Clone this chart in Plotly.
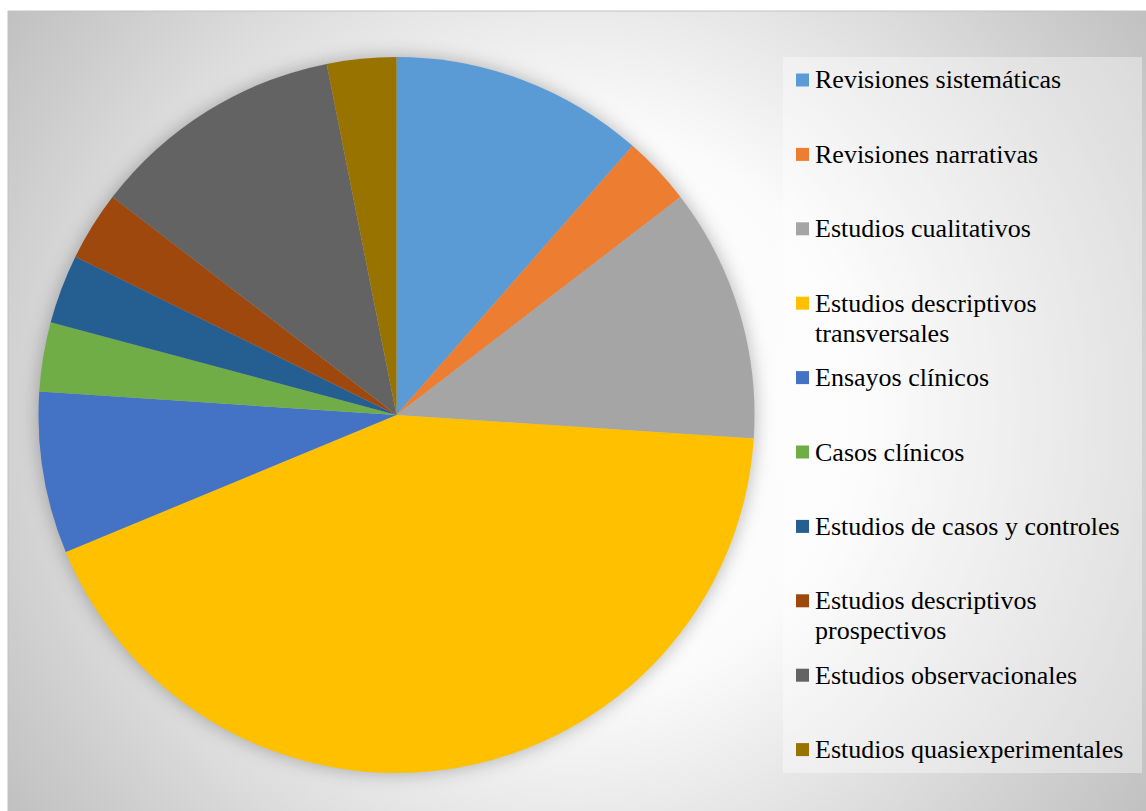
import base64
import plotly.graph_objects as go

# ---- data -------------------------------------------------------------
categories = [
    "Revisiones sistemáticas",
    "Revisiones narrativas",
    "Estudios cualitativos",
    "Estudios descriptivos transversales",
    "Ensayos clínicos",
    "Casos clínicos",
    "Estudios de casos y controles",
    "Estudios descriptivos prospectivos",
    "Estudios observacionales",
    "Estudios quasiexperimentales",
]
values = [11, 3, 11, 41, 7, 3, 3, 3, 11, 3]
colors = [
    "#5B9BD5", "#ED7D31", "#A5A5A5", "#FFC000", "#4472C4",
    "#70AD47", "#255E91", "#9E480E", "#636363", "#997300",
]
# legend text, wrapped the way it is laid out beside the pie
legend_labels = [
    ["Revisiones sistemáticas"],
    ["Revisiones narrativas"],
    ["Estudios cualitativos"],
    ["Estudios descriptivos", "transversales"],
    ["Ensayos clínicos"],
    ["Casos clínicos"],
    ["Estudios de casos y controles"],
    ["Estudios descriptivos", "prospectivos"],
    ["Estudios observacionales"],
    ["Estudios quasiexperimentales"],
]

# ---- page geometry (pixels) ------------------------------------------
W, H = 1146, 811
AREA_L, AREA_T = 8, 11               # chart area top-left corner
CX, CY, R = 396.5, 415.0, 358.0      # pie centre and radius
FONT = "Liberation Serif, Times New Roman, serif"
FONT_SIZE = 26


def px_x(x):
    return x / W


def px_y(y):
    return 1 - y / H


# ---- background: radial grey gradient plus a soft glow under the pie ---
gcx, gcy = (AREA_L + W) / 2, (AREA_T + H) / 2
svg = f"""<svg xmlns="http://www.w3.org/2000/svg" width="{W}" height="{H}" viewBox="0 0 {W} {H}" preserveAspectRatio="none">
<defs>
<radialGradient id="g" gradientUnits="userSpaceOnUse" cx="{gcx}" cy="{gcy}" r="700">
<stop offset="0" stop-color="#ffffff"/>
<stop offset="0.40" stop-color="#fbfbfb"/>
<stop offset="0.58" stop-color="#e9e9e9"/>
<stop offset="0.82" stop-color="#d1d1d1"/>
<stop offset="1" stop-color="#c0c0c0"/>
</radialGradient>
<filter id="b" x="-20%" y="-20%" width="140%" height="140%">
<feGaussianBlur stdDeviation="9"/>
</filter>
</defs>
<rect x="{AREA_L}" y="{AREA_T}" width="{W - AREA_L}" height="{H - AREA_T}" fill="url(#g)"/>
<circle cx="{CX}" cy="{CY}" r="{R + 1}" fill="#000000" fill-opacity="0.26" filter="url(#b)"/>
</svg>"""
bg_uri = "data:image/svg+xml;base64," + base64.b64encode(svg.encode("utf-8")).decode("ascii")

# ---- pie -----------------------------------------------------------------
fig = go.Figure(
    go.Pie(
        labels=categories,
        values=values,
        sort=False,
        direction="clockwise",
        rotation=0,
        marker=dict(colors=colors, line=dict(width=0)),
        textinfo="none",
        hoverinfo="label+value+percent",
        showlegend=False,
        domain=dict(
            x=[px_x(CX - R), px_x(CX + R)],
            y=[px_y(CY + R), px_y(CY - R)],
        ),
    )
)

shapes = [
    # chart area outline
    dict(type="rect", xref="paper", yref="paper",
         x0=px_x(AREA_L), x1=px_x(W + 2), y0=px_y(H + 2), y1=px_y(AREA_T),
         line=dict(color="#c2c2c2", width=1), fillcolor="rgba(0,0,0,0)", layer="above"),
    # legend panel
    dict(type="rect", xref="paper", yref="paper",
         x0=px_x(783), x1=px_x(1142), y0=px_y(773), y1=px_y(57),
         line=dict(width=0), fillcolor="rgba(255,255,255,0.38)", layer="below"),
]
annotations = []

LEG_TOP, LEG_STEP = 80.0, 74.4
MK_X0, MK_SIZE = 796, 13
TEXT_X = 813
LINE_GAP = 30
for i, (lines, col) in enumerate(zip(legend_labels, colors)):
    yc = LEG_TOP + i * LEG_STEP
    shapes.append(dict(
        type="rect", xref="paper", yref="paper",
        x0=px_x(MK_X0), x1=px_x(MK_X0 + MK_SIZE),
        y0=px_y(yc + MK_SIZE / 2), y1=px_y(yc - MK_SIZE / 2),
        line=dict(width=0), fillcolor=col, layer="above",
    ))
    for j, line in enumerate(lines):
        annotations.append(dict(
            text=line, xref="paper", yref="paper",
            x=px_x(TEXT_X), y=px_y(yc + j * LINE_GAP),
            xanchor="left", yanchor="middle", showarrow=False,
            font=dict(family=FONT, size=FONT_SIZE, color="#000000"),
        ))

fig.update_layout(
    width=W,
    height=H,
    margin=dict(l=0, r=0, t=0, b=0),
    paper_bgcolor="#ffffff",
    plot_bgcolor="#ffffff",
    images=[dict(
        source=bg_uri, xref="paper", yref="paper",
        x=0, y=1, sizex=1, sizey=1, xanchor="left", yanchor="top",
        sizing="stretch", layer="below",
    )],
    shapes=shapes,
    annotations=annotations,
)

fig.write_html("out.html")
